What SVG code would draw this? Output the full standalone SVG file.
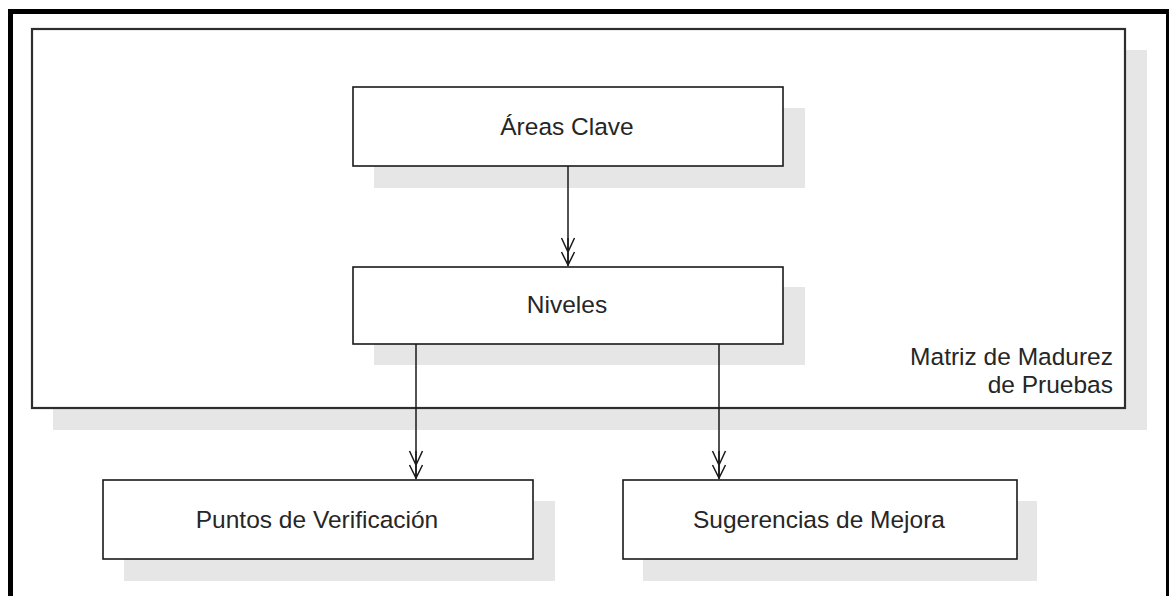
<svg xmlns="http://www.w3.org/2000/svg" width="1169" height="596" viewBox="0 0 1169 596">
  <style>
    .shadow { fill: #e6e6e6; stroke: none; }
    .box { fill: #ffffff; stroke: #1a1a1a; stroke-width: 1.6; }
    .container { fill: #ffffff; stroke: #2e2e2e; stroke-width: 2.2; }
    .label { font-family: "Liberation Sans", Arial, sans-serif; font-size: 24.5px; fill: #262626; }
    .mid { text-anchor: middle; }
    .end { text-anchor: end; }
    .link { fill: none; stroke: #1a1a1a; stroke-width: 1.5; }
  </style>
  <defs>
    <!-- open double-chevron arrowhead, tip at the line end -->
    <marker id="dblArrow" viewBox="-30 -9 32 18" markerWidth="32" markerHeight="18" refX="0" refY="0" orient="auto" markerUnits="userSpaceOnUse">
      <path d="M-28,-6.5 L-14,0 L-28,6.5 M-14,-6.5 L-1,0 L-14,6.5 M-28,0 L-1,0" fill="none" stroke="#1a1a1a" stroke-width="1.5"/>
    </marker>
  </defs>

  <rect x="0" y="0" width="1169" height="596" fill="#ffffff"/>

  <!-- page frame -->
  <rect x="10.5" y="11.5" width="1158" height="620" fill="none" stroke="#000000" stroke-width="5"/>

  <!-- container: Matriz de Madurez de Pruebas -->
  <g id="matriz">
    <rect class="shadow" x="53" y="50" width="1094" height="380"/>
    <rect class="container" x="32" y="29" width="1093" height="379"/>
    <text class="label end" x="1113" y="365">Matriz de Madurez</text>
    <text class="label end" x="1113" y="393">de Pruebas</text>
  </g>

  <g id="areas-clave">
    <rect class="shadow" x="374" y="108" width="431" height="80"/>
    <rect class="box" x="353" y="87" width="430" height="79"/>
    <text class="label mid" x="567" y="134.5">Áreas Clave</text>
  </g>

  <g id="niveles">
    <rect class="shadow" x="374" y="287" width="431" height="78"/>
    <rect class="box" x="353" y="267" width="430" height="77"/>
    <text class="label mid" x="567" y="312.5">Niveles</text>
  </g>

  <g id="puntos-verificacion">
    <rect class="shadow" x="124" y="501" width="431" height="80"/>
    <rect class="box" x="103" y="480" width="430" height="79"/>
    <text class="label mid" x="317" y="528">Puntos de Verificación</text>
  </g>

  <g id="sugerencias-mejora">
    <rect class="shadow" x="643" y="501" width="394" height="80"/>
    <rect class="box" x="623" y="480" width="394" height="79"/>
    <text class="label mid" x="819" y="528">Sugerencias de Mejora</text>
  </g>

  <g id="connectors">
    <line class="link" x1="568" y1="166" x2="568" y2="266" marker-end="url(#dblArrow)"/>
    <line class="link" x1="416" y1="344" x2="416" y2="479" marker-end="url(#dblArrow)"/>
    <line class="link" x1="719" y1="344" x2="719" y2="479" marker-end="url(#dblArrow)"/>
  </g>
</svg>
